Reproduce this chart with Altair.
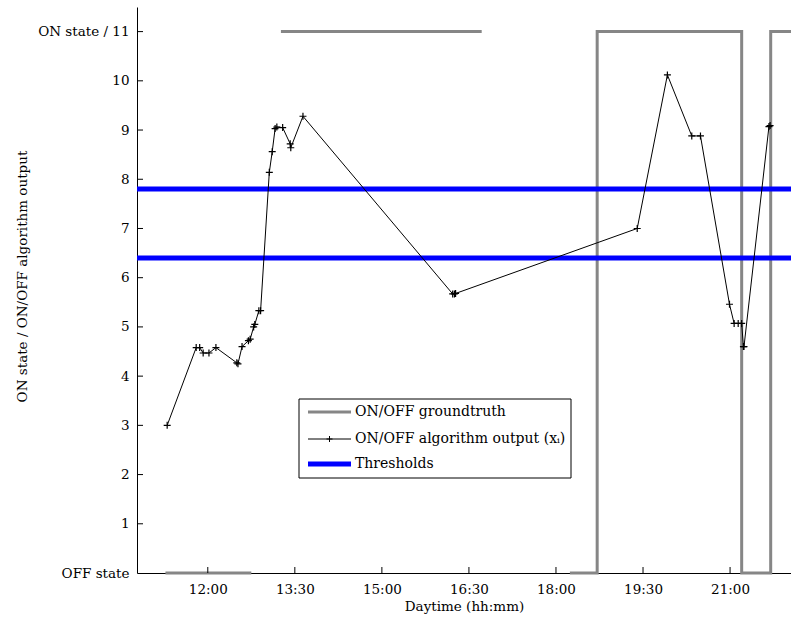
import altair as alt
import pandas as pd

# ---------------- data ----------------
ALG_HOURS = [11.30, 11.80, 11.86, 11.92, 12.02, 12.14, 12.50, 12.52, 12.59, 12.70,
             12.73, 12.79, 12.81, 12.88, 12.91, 13.06, 13.11, 13.16, 13.19, 13.29,
             13.42, 13.43, 13.64, 16.22, 16.25, 16.27, 19.40, 19.92, 20.34, 20.49,
             20.99, 21.07, 21.14, 21.20, 21.23, 21.24, 21.67, 21.69]
ALG_VALUES = [3.00, 4.58, 4.58, 4.47, 4.47, 4.58, 4.27, 4.25, 4.60, 4.72,
              4.75, 5.00, 5.05, 5.33, 5.33, 8.14, 8.56, 9.03, 9.06, 9.05,
              8.72, 8.64, 9.28, 5.67, 5.67, 5.68, 7.00, 10.12, 8.88, 8.88,
              5.46, 5.07, 5.07, 5.07, 4.60, 4.60, 9.07, 9.09]

GT_HOURS = [11.27, 12.75, 13.26, 16.72, 18.24, 18.71, 18.71, 21.20, 21.20, 21.70, 21.70, 22.05]
GT_STATE = [0, 0, 11, 11, 0, 0, 11, 11, 0, 0, 11, 11]
GT_SEGMENT = [1, 1, 2, 2, 3, 3, 3, 3, 3, 3, 3, 3]

THRESHOLDS = [6.4, 7.8]

X_TICKS = [12, 13.5, 15, 16.5, 18, 19.5, 21]
X_TICK_LABELS = ["12:00", "13:30", "15:00", "16:30", "18:00", "19:30", "21:00"]
Y_TICKS = [0, 1, 2, 3, 4, 5, 6, 7, 8, 9, 10, 11]
Y_TICK_LABELS = ["OFF state", "1", "2", "3", "4", "5", "6", "7", "8", "9", "10", "ON state / 11"]

LEGEND_LABELS = ["ON/OFF groundtruth", "ON/OFF algorithm output (x\u1d62)", "Thresholds"]

X_DOMAIN = [10.78, 22.05]
Y_DOMAIN = [0, 11.5]

# ---------------- layout ----------------
W, H = 654, 566
FONT = "DejaVu Serif"
GREY = "#868686"
BLUE = "#0000ff"

alg = pd.DataFrame({"h": ALG_HOURS, "v": ALG_VALUES, "i": range(len(ALG_HOURS))})
gt = pd.DataFrame({"h": GT_HOURS, "v": GT_STATE, "seg": GT_SEGMENT, "i": range(len(GT_HOURS))})
thr = pd.DataFrame({"v": THRESHOLDS})
xt = pd.DataFrame({"h": X_TICKS})
yt = pd.DataFrame({"v": [t for t in Y_TICKS if t > 0]})
one = pd.DataFrame({"a": [0]})


def label_expr(vals, labs):
    expr = "''"
    for v, l in reversed(list(zip(vals, labs))):
        expr = f"datum.value == {v} ? '{l}' : ({expr})"
    return expr


xscale = alt.Scale(domain=X_DOMAIN, nice=False, zero=False)
yscale = alt.Scale(domain=Y_DOMAIN, nice=False, zero=False)

xaxis = alt.Axis(values=X_TICKS, labelExpr=label_expr(X_TICKS, X_TICK_LABELS),
                 title="Daytime (hh:mm)", tickSize=0, labelPadding=9,
                 grid=False, domainColor="black", domainWidth=1,
                 labelFont=FONT, labelFontSize=13.5, labelColor="black",
                 titleFont=FONT, titleFontSize=13.5, titleFontWeight="normal",
                 titleColor="black", titleBaseline="top", titleY=26)
yaxis = alt.Axis(values=Y_TICKS, labelExpr=label_expr(Y_TICKS, Y_TICK_LABELS),
                 title="ON state / ON/OFF algorithm output", tickSize=0, labelPadding=8,
                 grid=False, domainColor="black", domainWidth=1,
                 labelFont=FONT, labelFontSize=13.5, labelColor="black",
                 titleFont=FONT, titleFontSize=13.5, titleFontWeight="normal",
                 titleColor="black", titleX=-115, titleY=269, titleBaseline="middle")

base_x = alt.X("h:Q", scale=xscale, axis=xaxis)
base_y = alt.Y("v:Q", scale=yscale, axis=yaxis)

thr_layer = alt.Chart(thr).mark_rule(color=BLUE, strokeWidth=5).encode(
    y=alt.Y("v:Q", scale=yscale)
)

gt_layer = alt.Chart(gt).mark_line(color=GREY, strokeWidth=3, strokeJoin="miter").encode(
    x=base_x, y=base_y, detail="seg:N", order="i:Q"
)

alg_line = alt.Chart(alg).mark_line(color="black", strokeWidth=1).encode(
    x=alt.X("h:Q", scale=xscale), y=alt.Y("v:Q", scale=yscale), order="i:Q"
)
CROSS = "M-1,0L1,0M0,-1L0,1"
alg_pts = alt.Chart(alg).mark_point(shape=CROSS, size=49, filled=False,
                                     color="black", strokeWidth=1.2, opacity=1).encode(
    x=alt.X("h:Q", scale=xscale), y=alt.Y("v:Q", scale=yscale)
)

# inward ticks
xtick_layer = alt.Chart(xt).mark_rule(color="black", strokeWidth=1).encode(
    x=alt.X("h:Q", scale=xscale), y=alt.value(H), y2=alt.value(H - 6)
)
ytick_layer = alt.Chart(yt).mark_rule(color="black", strokeWidth=1).encode(
    y=alt.Y("v:Q", scale=yscale), x=alt.value(0), x2=alt.value(6)
)

# legend
LX0, LX1, LY0, LY1 = 162, 434, 392, 471
ROWS = [405, 432, 457]
SX0, SX1, TX = 171, 214, 218
leg_box = alt.Chart(one).mark_rect(fill="white", stroke="black", strokeWidth=1).encode(
    x=alt.value(LX0), x2=alt.value(LX1), y=alt.value(LY0), y2=alt.value(LY1)
)
leg_gt = alt.Chart(one).mark_rule(color=GREY, strokeWidth=3).encode(
    x=alt.value(SX0), x2=alt.value(SX1), y=alt.value(ROWS[0])
)
leg_alg = alt.Chart(one).mark_rule(color="black", strokeWidth=1).encode(
    x=alt.value(SX0), x2=alt.value(SX1), y=alt.value(ROWS[1])
)
leg_alg_pt = alt.Chart(one).mark_point(shape=CROSS, size=36, filled=False,
                                        color="black", strokeWidth=1, opacity=1).encode(
    x=alt.value((SX0 + SX1) / 2), y=alt.value(ROWS[1])
)
leg_thr = alt.Chart(one).mark_rule(color=BLUE, strokeWidth=5).encode(
    x=alt.value(SX0), x2=alt.value(SX1), y=alt.value(ROWS[2])
)
leg_texts = [
    alt.Chart(one).mark_text(text=lab, align="left", baseline="middle", font=FONT,
                             fontSize=14, color="black").encode(
        x=alt.value(TX), y=alt.value(r))
    for lab, r in zip(LEGEND_LABELS, ROWS)
]

chart = alt.layer(
    gt_layer, thr_layer, alg_line, alg_pts, xtick_layer, ytick_layer,
    leg_box, leg_gt, leg_alg, leg_alg_pt, leg_thr, *leg_texts
).properties(
    width=W, height=H,
    autosize=alt.AutoSizeParams(type="none"),
    padding={"left": 137, "top": 7, "right": 0, "bottom": 46},
    background="white",
).configure_view(stroke=None)

chart.save("out.html", embed_options={"renderer": "svg", "actions": False})
